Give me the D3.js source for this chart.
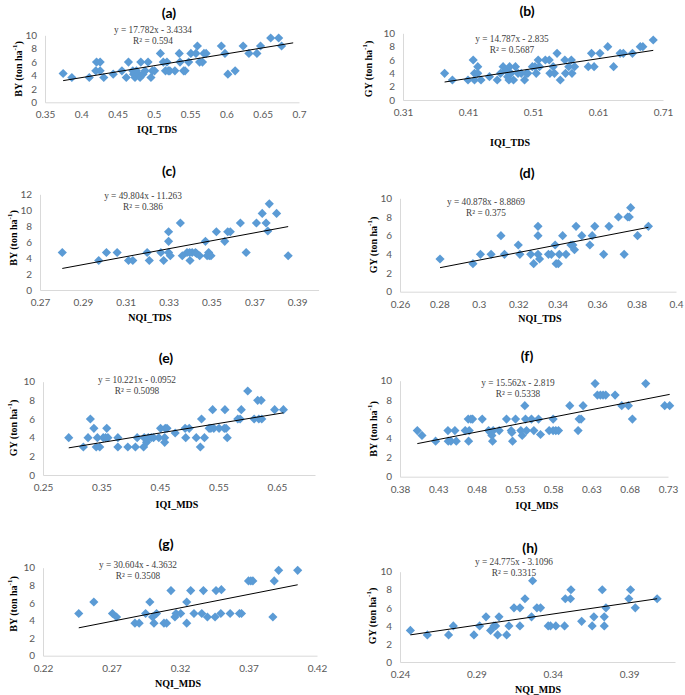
<!DOCTYPE html>
<html><head><meta charset="utf-8">
<script src="https://cdn.jsdelivr.net/npm/d3@7"></script>
<style>body{margin:0;background:#fff}</style>
</head><body><svg id="c" width="685" height="695"></svg>
<script>
// ---------- DATA ----------
const titles = ["(a)","(b)","(c)","(d)","(e)","(f)","(g)","(h)"];
const xLabels = ["IQI_TDS","IQI_TDS","NQI_TDS","NQI_TDS","IQI_MDS","IQI_MDS","NQI_MDS","NQI_MDS"];
const yVars = ["BY","GY","BY","GY","GY","BY","BY","GY"];
const equations = ["y = 17.782x - 3.4334","y = 14.787x - 2.835","y = 49.804x - 11.263","y = 40.878x - 8.8869",
                   "y = 10.221x - 0.0952","y = 15.562x - 2.819","y = 30.604x - 4.3632","y = 24.775x - 3.1096"];
const r2Values = ["0.594","0.5687","0.386","0.375","0.5098","0.5338","0.3508","0.3315"];
const slopes = [17.782,14.787,49.804,40.878,10.221,15.562,30.604,24.775];
const intercepts = [-3.4334,-2.835,-11.263,-8.8869,-0.0952,-2.819,-4.3632,-3.1096];
const trendRanges = [[0.375,0.692],[0.374,0.695],[0.2804,0.3858],[0.2803,0.386],[0.294,0.661],[0.4026,0.7322],[0.2461,0.4059],[0.2468,0.4083]];
const xDomains = [[0.35,0.7],[0.31,0.71],[0.27,0.40],[0.26,0.40],[0.25,0.715],[0.38,0.73],[0.22,0.42],[0.24,0.42]];
const xTicks = [[0.35,0.4,0.45,0.5,0.55,0.6,0.65,0.7],[0.31,0.41,0.51,0.61,0.71],[0.27,0.29,0.31,0.33,0.35,0.37,0.39],
                [0.26,0.28,0.3,0.32,0.34,0.36,0.38,0.4],[0.25,0.35,0.45,0.55,0.65],[0.38,0.43,0.48,0.53,0.58,0.63,0.68,0.73],
                [0.22,0.27,0.32,0.37,0.42],[0.24,0.29,0.34,0.39]];
const yMaxes = [10,10,12,10,10,10,10,10];
const yTicks10 = [0,2,4,6,8,10];
const yTicks12 = [0,2,4,6,8,10,12];

const aX=[0.375,0.387,0.411,0.420,0.421,0.426,0.426,0.431,0.444,0.456,0.462,0.465,0.471,0.472,0.474,0.476,0.479,0.481,0.482,0.485,0.488,0.492,0.496,0.498,0.501,0.509,0.513,0.516,0.518,0.520,0.522,0.529,0.535,0.536,0.541,0.543,0.548,0.551,0.558,0.560,0.563,0.567,0.569,0.572,0.593,0.598,0.602,0.612,0.623,0.631,0.642,0.647,0.661,0.672,0.676];
const aY=[4.3,3.7,3.7,4.7,6.0,6.0,4.7,3.7,4.2,4.7,3.7,6.0,4.7,4.2,3.7,4.7,4.2,3.7,6.0,4.2,4.7,6.0,3.7,4.7,4.7,7.3,6.0,4.7,6.0,4.7,4.7,4.7,7.3,6.0,4.7,4.7,6.0,7.3,7.3,8.4,6.0,6.0,7.3,7.3,8.4,7.3,4.2,4.7,8.4,7.3,7.3,8.4,9.6,9.6,8.4];
const bX=[0.374,0.386,0.410,0.418,0.420,0.420,0.425,0.425,0.430,0.443,0.455,0.460,0.464,0.468,0.471,0.473,0.474,0.476,0.480,0.483,0.487,0.492,0.497,0.500,0.502,0.509,0.513,0.515,0.518,0.520,0.529,0.535,0.536,0.541,0.543,0.547,0.552,0.559,0.560,0.565,0.569,0.570,0.574,0.595,0.600,0.604,0.613,0.625,0.634,0.644,0.649,0.663,0.675,0.679,0.695];
const bY=[4,3,3,6,4,3,5,4,3,3.5,3,4,5,4.5,3.5,3,5,4,3,5,4,4,3,4,4,5,5,4,6,5,6,6,4,5,4,7,3,6,4,5,6,4,5,5,7,5,7,8,5,7,7,7,8,8,9];
const cX=[0.2804,0.2974,0.301,0.306,0.3113,0.3133,0.320,0.321,0.3264,0.3277,0.330,0.330,0.330,0.3308,0.3355,0.3364,0.3386,0.3398,0.340,0.341,0.3425,0.343,0.3445,0.3472,0.348,0.3487,0.349,0.3498,0.3523,0.3562,0.3576,0.3588,0.3635,0.3662,0.371,0.3737,0.3755,0.3763,0.377,0.3804,0.3858];
const cY=[4.7,3.7,4.7,4.7,3.7,3.7,4.7,3.7,4.7,3.7,7.3,6.1,4.7,4.3,8.4,4.3,4.7,4.7,3.7,4.7,4.7,4.6,4.3,6.1,4.3,4.7,4.3,4.3,7.3,6.1,7.3,7.3,8.4,4.7,8.4,9.6,8.4,7.4,10.8,9.6,4.3];
const dX=[0.2803,0.297,0.3008,0.3062,0.3112,0.313,0.320,0.3208,0.3263,0.3278,0.330,0.330,0.330,0.3308,0.3353,0.3368,0.3387,0.3392,0.3403,0.3408,0.3425,0.3442,0.3467,0.3477,0.3485,0.3493,0.3522,0.3563,0.3575,0.3588,0.3633,0.366,0.3708,0.3737,0.3755,0.3763,0.377,0.3805,0.386];
const dY=[3.5,3,4,4,6,4,5,4,4,3,7,6,4,3.5,4,4,5,3,3,4,6,4,5,5,4.5,7,6,5,6,7,4,7,8,4,8,8,9,6,7];
const eX=[0.294,0.319,0.327,0.331,0.337,0.341,0.343,0.347,0.353,0.357,0.359,0.361,0.378,0.378,0.395,0.408,0.411,0.422,0.423,0.427,0.430,0.435,0.439,0.448,0.451,0.458,0.458,0.459,0.462,0.476,0.493,0.494,0.500,0.512,0.519,0.521,0.526,0.534,0.537,0.540,0.542,0.551,0.561,0.560,0.563,0.565,0.583,0.587,0.589,0.600,0.611,0.617,0.619,0.623,0.624,0.646,0.661];
const eY=[4,3,4,6,5,3,4,3,4,4,5,4,4,3,3,3,4,3,4,3.5,4,4,4,4,5,4,3.5,5,5,4.5,5,4,5,4,3,6,4,5,5,7,5,5,7,5,5,4,6,6,7,9,6,8,6,8,6,7,7];
const fX=[0.4026,0.4087,0.4265,0.4426,0.443,0.4465,0.4517,0.4535,0.4652,0.4691,0.4696,0.4704,0.4726,0.4748,0.4874,0.4957,0.4983,0.500,0.5009,0.5017,0.5096,0.5191,0.5252,0.5261,0.527,0.5309,0.5378,0.5396,0.543,0.5439,0.5452,0.5517,0.5548,0.5609,0.5635,0.5748,0.58,0.58,0.5835,0.587,0.6017,0.6126,0.6139,0.6165,0.6191,0.6348,0.6378,0.6417,0.6452,0.6487,0.6609,0.6696,0.6783,0.6835,0.7009,0.7257,0.7322];
const fY=[4.8,4.3,3.7,4.8,3.7,3.7,4.8,3.7,4.8,6.0,3.7,4.8,6.0,6.0,6.0,4.8,4.6,4.3,3.7,4.8,4.8,6.0,4.8,4.6,3.7,6.0,4.8,4.3,7.4,6.0,4.8,6.0,4.8,6.0,4.4,4.8,6.0,4.8,4.8,4.8,7.4,4.8,6.0,6.0,7.4,9.7,8.5,8.5,8.5,8.5,8.5,7.4,7.4,6.0,9.7,7.4,7.4];
const gX=[0.2461,0.2571,0.2707,0.2737,0.2871,0.2902,0.2949,0.298,0.300,0.301,0.3029,0.3083,0.3102,0.3134,0.3163,0.3171,0.3205,0.3249,0.3249,0.3278,0.3302,0.3359,0.3371,0.340,0.3456,0.3463,0.3498,0.3502,0.3566,0.3634,0.3649,0.370,0.3717,0.3732,0.3878,0.3888,0.392,0.4059];
const gY=[4.8,6.1,4.8,4.4,3.7,3.7,4.8,6.1,4.4,3.7,4.8,3.7,3.7,7.4,4.4,4.8,4.8,6.1,3.7,7.4,4.8,4.8,7.4,4.4,4.4,7.4,4.8,7.5,4.8,4.8,4.8,8.5,8.5,8.5,4.4,8.5,9.7,9.7];
const hX=[0.2468,0.2579,0.2718,0.2749,0.2884,0.2921,0.2963,0.2993,0.3015,0.3026,0.3039,0.3048,0.3098,0.3113,0.3146,0.3185,0.3185,0.3218,0.3261,0.3268,0.3296,0.332,0.337,0.3385,0.342,0.3477,0.3482,0.3516,0.3519,0.3589,0.3658,0.3669,0.3724,0.3737,0.3737,0.3748,0.3898,0.3909,0.394,0.4083];
const hY=[3.5,3,3,4,3,4,5,3.5,4,4,3,5,3,4,6,6,4,7,5,9,6,6,4,4,4,4,7,7,8,4.5,4,5,8,5,4,6,7,8,6,7];

const seriesX=[aX,bX,cX,dX,eX,fX,gX,hX];
const seriesY=[aY,bY,cY,dY,eY,fY,gY,hY];

// ---------- LAYOUT (pixels) ----------
const layout = [
  {x0:45,x1:299,yb:102.3,yt:35.3,title:[169,12],eq:[153,30],ylab:[18,69],xlab:[157,129]},
  {x0:403,x1:663,yb:100,yt:33.3,title:[527,10],eq:[512,39],ylab:[368,69],xlab:[510,142]},
  {x0:40,x1:318.6,yb:290,yt:194.3,title:[169,170],eq:[143,196],ylab:[13,238],xlab:[150,317]},
  {x0:400,x1:676,yb:291.7,yt:198.3,title:[527,172],eq:[486,202],ylab:[373,245],xlab:[540,318]},
  {x0:43,x1:315,yb:475,yt:381.7,title:[166,357],eq:[137,380],ylab:[13,428],xlab:[177,504]},
  {x0:400,x1:668,yb:476.7,yt:380.7,title:[527,355],eq:[518,383],ylab:[373,429],xlab:[537,505]},
  {x0:43,x1:317,yb:655.7,yt:567.7,title:[166,543],eq:[138,565],ylab:[13,604],xlab:[178,683]},
  {x0:400,x1:675,yb:662,yt:571.7,title:[530,547],eq:[514,562],ylab:[372,616],xlab:[538,689]}
];

const svg = d3.select("#c");
const blue = "#5B9BD5", axisGray = "#D9D9D9", tickCol = "#595959";
const diamond = d3.symbol().type(d3.symbolSquare).size(42);
const fmt = v => String(+v.toFixed(2));

layout.forEach((L,i)=>{
  const g = svg.append("g");
  const x = d3.scaleLinear().domain(xDomains[i]).range([L.x0,L.x1]);
  const y = d3.scaleLinear().domain([0,yMaxes[i]]).range([L.yb,L.yt]);

  const xa = g.append("g").attr("transform",`translate(0,${L.yb})`)
    .call(d3.axisBottom(x).tickValues(xTicks[i]).tickFormat(fmt).tickSize(0).tickPadding(9));
  const ya = g.append("g").attr("transform",`translate(${L.x0},0)`)
    .call(d3.axisLeft(y).tickValues(yMaxes[i]===12?yTicks12:yTicks10).tickFormat(d3.format("d")).tickSize(0).tickPadding(8));
  [xa,ya].forEach(a=>{
    a.select(".domain").attr("stroke",axisGray).attr("stroke-width",1);
    a.selectAll("text").attr("fill",tickCol).style("font-family","Lato, 'Open Sans', sans-serif").style("font-size","10px");
  });

  // points
  g.append("g").selectAll("path").data(seriesX[i].map((v,k)=>[v,seriesY[i][k]])).join("path")
    .attr("d",diamond)
    .attr("transform",d=>`translate(${x(d[0])},${y(d[1])}) rotate(45)`)
    .attr("fill",blue);

  // trendline
  const tr = trendRanges[i].map(v=>[v, slopes[i]*v+intercepts[i]]);
  g.append("path").datum(tr)
    .attr("d",d3.line().x(d=>x(d[0])).y(d=>y(d[1])))
    .attr("stroke","#000").attr("stroke-width",1).attr("fill","none");

  // title
  g.append("text").attr("x",L.title[0]).attr("y",L.title[1]).attr("text-anchor","middle")
    .attr("dominant-baseline","central")
    .style("font-family","Lato, sans-serif").style("font-weight","bold").style("font-size","14px")
    .attr("fill","#000").text(titles[i]);

  // equation
  g.append("text").attr("text-anchor","middle").attr("x",L.eq[0]).attr("y",L.eq[1])
    .attr("dominant-baseline","central")
    .style("font-family","'Liberation Serif', 'Times New Roman', serif").style("font-size","9.3px").attr("fill","#404040")
    .text(equations[i]);
  g.append("text").attr("text-anchor","middle").attr("x",L.eq[0]).attr("y",L.eq[1]+10.5)
    .attr("dominant-baseline","central")
    .style("font-family","'Liberation Serif', 'Times New Roman', serif").style("font-size","9.3px").attr("fill","#404040")
    .text("R² = "+r2Values[i]);

  // x label
  g.append("text").attr("x",L.xlab[0]).attr("y",L.xlab[1]).attr("text-anchor","middle")
    .attr("dominant-baseline","central")
    .style("font-family","'Liberation Serif', 'Times New Roman', serif").style("font-weight","bold").style("font-size","10px")
    .attr("fill","#000").text(xLabels[i]);

  // y label
  const yl = g.append("text").attr("transform",`translate(${L.ylab[0]},${L.ylab[1]}) rotate(-90)`)
    .attr("text-anchor","middle").attr("dominant-baseline","central")
    .style("font-family","'Liberation Serif', 'Times New Roman', serif").style("font-weight","bold").style("font-size","10px")
    .attr("fill","#000");
  yl.append("tspan").text(yVars[i]+" (ton ha");
  yl.append("tspan").attr("dy","-3.5").style("font-size","7px").text("-1");
  yl.append("tspan").attr("dy","3.5").text(")");
});
</script>
</body></html>
